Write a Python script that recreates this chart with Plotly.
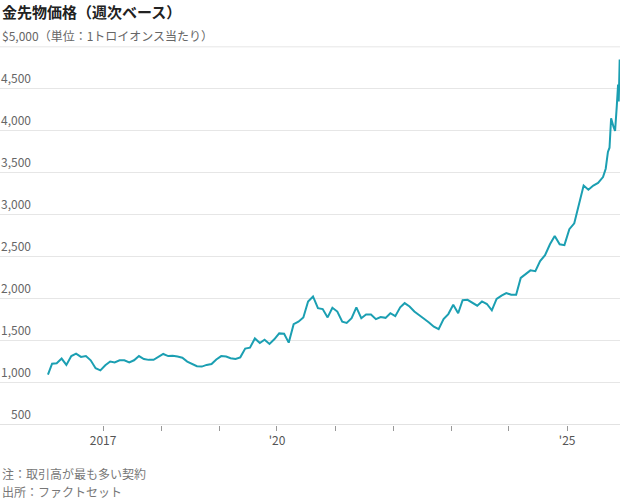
import plotly.graph_objects as go

dates = []
values = []
monthly = {
    2016: [1100, 1230, 1235, 1290, 1215, 1320, 1350, 1310, 1320, 1270, 1175, 1150],
    2017: [1210, 1255, 1245, 1270, 1270, 1245, 1270, 1320, 1285, 1275, 1275, 1305],
    2018: [1345, 1320, 1325, 1315, 1300, 1255, 1225, 1200, 1195, 1215, 1225, 1280],
    2019: [1320, 1315, 1295, 1285, 1305, 1410, 1420, 1530, 1475, 1515, 1465, 1520],
    2020: [1590, 1585, 1480, 1700, 1730, 1780, 1970, 2030, 1890, 1880, 1780, 1895],
    2021: [1850, 1730, 1715, 1770, 1900, 1770, 1815, 1815, 1760, 1785, 1775, 1830],
    2022: [1795, 1900, 1950, 1910, 1850, 1810, 1765, 1720, 1670, 1640, 1760, 1820],
    2023: [1930, 1830, 1985, 1990, 1960, 1920, 1970, 1940, 1865, 2000, 2040, 2070],
    2024: [2050, 2050, 2250, 2300, 2340, 2330, 2450, 2520, 2650, 2750, 2650, 2640],
}
for y, vals in monthly.items():
    for m, v in enumerate(vals):
        dates.append(f"{y}-{m+1:02d}-15")
        values.append(v)
tail_dates = ["2025-01-15", "2025-02-15", "2025-03-15", "2025-04-15", "2025-05-15",
              "2025-06-15", "2025-07-15", "2025-08-15", "2025-09-01", "2025-09-15",
              "2025-09-25", "2025-10-05", "2025-10-20", "2025-10-30", "2025-11-10",
              "2025-11-18", "2025-11-22", "2025-11-28"]
tail_values = [2830, 2900, 3100, 3350, 3300, 3350, 3380, 3450, 3550, 3750,
               3800, 4150, 4050, 4000, 4300, 4550, 4350, 4850]
dates += tail_dates
values += tail_values
dates[0] = "2016-01-20"

tick_vals = [f"{y}-01-01" for y in range(2017, 2027)]
tick_text = ["2017", "", "", "'20", "", "", "", "", "'25", ""]
y_grid = [1000, 1500, 2000, 2500, 3000, 3500, 4000, 4500]
y_labels = ["1,000", "1,500", "2,000", "2,500", "3,000", "3,500", "4,000", "4,500"]

font = "Noto Sans CJK JP"
fig = go.Figure(go.Scatter(x=dates, y=values, mode="lines",
                           line=dict(color="#1b9fb2", width=2)))
fig.update_layout(
    width=620, height=500, margin=dict(l=0, r=0, t=46, b=75),
    paper_bgcolor="white", plot_bgcolor="white", showlegend=False,
    font=dict(family=font, color="#666", size=12),
    xaxis=dict(range=["2015-03-24", "2025-11-30"], tickvals=tick_vals, ticktext=tick_text,
               ticks="outside", ticklen=5, tickcolor="#999", showgrid=False,
               showline=False, zeroline=False, tickfont=dict(size=12, color="#555")),
    yaxis=dict(range=[500, 5010], tickvals=y_grid, showticklabels=False,
               gridcolor="#e6e6e6", gridwidth=1, zeroline=False, showline=False),
)
fig.add_hline(y=5000, line=dict(color="#e6e6e6", width=1), layer="below")
fig.add_hline(y=500, line=dict(color="#d8d8d8", width=1.5))
for v, t in zip(y_grid, y_labels):
    fig.add_annotation(x=33 / 620, xref="paper", y=v, yref="y", text=t, showarrow=False,
                       xanchor="right", yanchor="bottom", yshift=1,
                       font=dict(size=12, color="#666"))
fig.add_annotation(x=33 / 620, xref="paper", y=500, yref="y", text="500", showarrow=False,
                   xanchor="right", yanchor="bottom", yshift=1, font=dict(size=12, color="#666"))
fig.add_annotation(x=0, xref="paper", y=5000, yref="y", text="$5,000（単位：1トロイオンス当たり）",
                   showarrow=False, xanchor="left", yanchor="bottom", yshift=1,
                   font=dict(size=12, color="#666"))
fig.add_annotation(x=0, xref="paper", y=1, yref="paper", yshift=47, text="<b>金先物価格（週次ベース）</b>",
                   showarrow=False, xanchor="left", yanchor="top", font=dict(size=15, color="#222"))
fig.add_annotation(x=0, xref="paper", y=0, yref="paper", yshift=-38, text="注：取引高が最も多い契約",
                   showarrow=False, xanchor="left", yanchor="top", font=dict(size=12, color="#777"))
fig.add_annotation(x=0, xref="paper", y=0, yref="paper", yshift=-56, text="出所：ファクトセット",
                   showarrow=False, xanchor="left", yanchor="top", font=dict(size=12, color="#777"))
fig.write_html("out.html", post_script="document.body.style.margin='0';",
               config={"displayModeBar": False})
